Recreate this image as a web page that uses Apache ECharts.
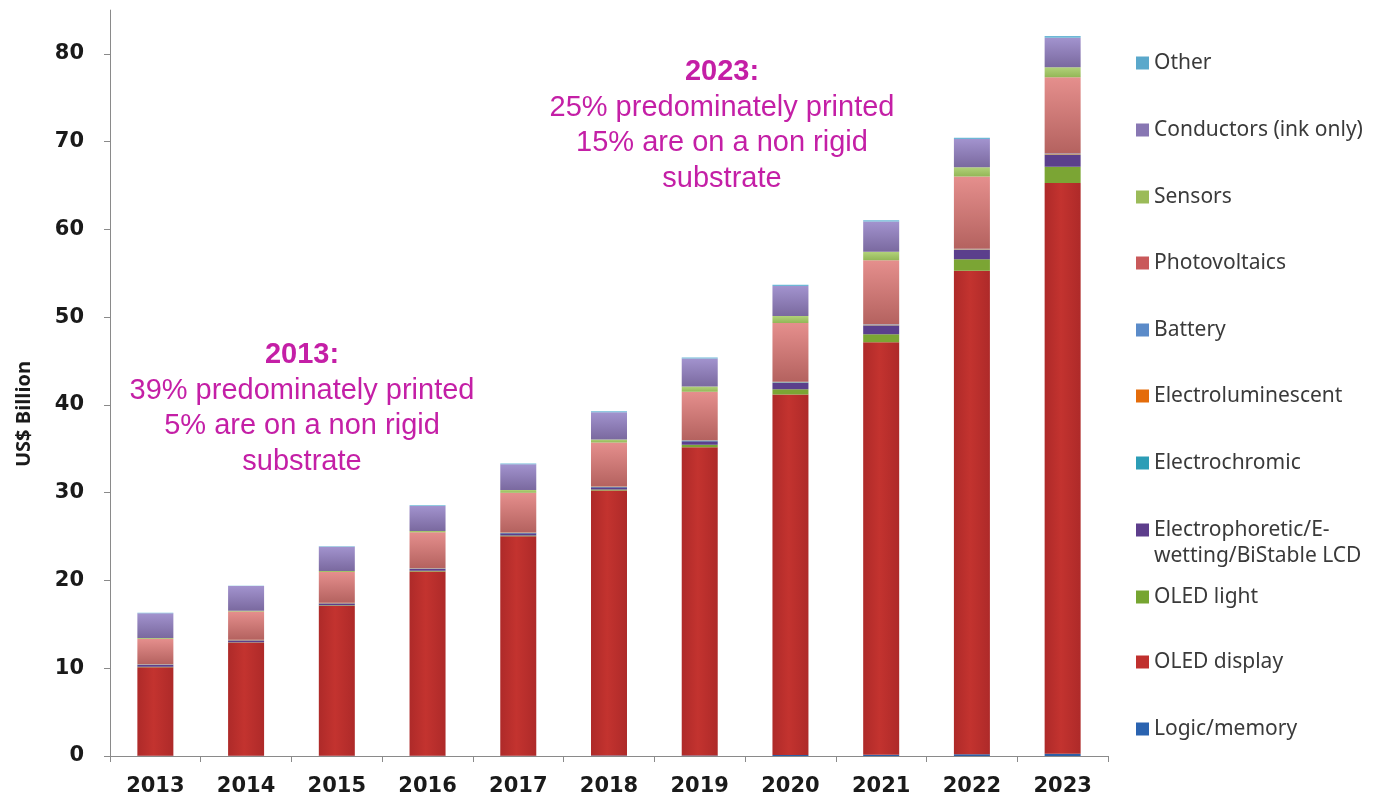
<!DOCTYPE html>
<html>
<head>
<meta charset="utf-8">
<script src="https://cdn.jsdelivr.net/npm/echarts@6/dist/echarts.min.js"></script>
<style>
  html, body { margin: 0; padding: 0; background: #ffffff; }
  #chart { width: 1376px; height: 799px; }
</style>
</head>
<body>
<div id="chart"></div>
<script>
// Printed / flexible electronics market, US$ billion, by segment
const years = ['2013', '2014', '2015', '2016', '2017', '2018', '2019', '2020', '2021', '2022', '2023'];

const logicMemory      = [0.02, 0.02, 0.03, 0.03, 0.04, 0.05, 0.07, 0.10, 0.15, 0.20, 0.25];
const oledDisplay      = [10.1, 12.9, 17.1, 21.0, 25.0, 30.2, 35.1, 41.1, 47.0, 55.1, 65.05];
const oledLight        = [0.05, 0.05, 0.05, 0.08, 0.10, 0.12, 0.30, 0.60, 0.90, 1.30, 1.85];
const electrophoretic  = [0.20, 0.20, 0.20, 0.20, 0.25, 0.25, 0.40, 0.70, 1.00, 1.05, 1.35];
const electrochromic   = [0.02, 0.02, 0.02, 0.02, 0.03, 0.03, 0.04, 0.05, 0.05, 0.05, 0.05];
const electrolum       = [0.05, 0.05, 0.05, 0.05, 0.05, 0.05, 0.05, 0.05, 0.05, 0.05, 0.05];
const battery          = [0.02, 0.02, 0.02, 0.02, 0.03, 0.03, 0.04, 0.05, 0.05, 0.05, 0.05];
const photovoltaics    = [2.9, 3.2, 3.5, 4.1, 4.5, 5.0, 5.5, 6.7, 7.3, 8.25, 8.7];
const sensors          = [0.10, 0.10, 0.12, 0.15, 0.30, 0.35, 0.60, 0.80, 0.95, 1.05, 1.15];
const conductors       = [2.8, 2.8, 2.75, 2.85, 2.95, 3.1, 3.2, 3.4, 3.45, 3.2, 3.35];
const other            = [0.05, 0.05, 0.06, 0.07, 0.08, 0.10, 0.10, 0.15, 0.15, 0.15, 0.20];

const yTicks = [0, 10, 20, 30, 40, 50, 60, 70, 80];

const note2013 = ['2013:', '39% predominately printed', '5% are on a non rigid', 'substrate'];
const note2023 = ['2023:', '25% predominately printed', '15% are on a non rigid', 'substrate'];

function vgrad(top, bottom) {
  return new echarts.graphic.LinearGradient(0, 0, 0, 1, [
    { offset: 0, color: top }, { offset: 1, color: bottom }
  ]);
}
function hgrad(edge, mid) {
  return new echarts.graphic.LinearGradient(0, 0, 1, 0, [
    { offset: 0, color: edge }, { offset: 0.45, color: mid }, { offset: 1, color: edge }
  ]);
}

// bottom-to-top stacking order
const seriesDefs = [
  { name: 'Logic/memory', data: logicMemory, fill: '#2C5FA5', icon: '#2A63B0' },
  { name: 'OLED display', data: oledDisplay, fill: hgrad('#AE2A29', '#C3332F'), icon: '#C0302E' },
  { name: 'OLED light', data: oledLight, fill: '#7BA534', icon: '#76A531' },
  { name: 'Electrophoretic/E-wetting/BiStable LCD', data: electrophoretic, fill: '#5B3F8C', icon: '#5D3E8C' },
  { name: 'Electrochromic', data: electrochromic, fill: '#2E9EB8', icon: '#2C9DB6' },
  { name: 'Electroluminescent', data: electrolum, fill: '#E4701E', icon: '#E46C0A' },
  { name: 'Battery', data: battery, fill: '#6C9AD0', icon: '#5B8BC9' },
  { name: 'Photovoltaics', data: photovoltaics, fill: vgrad('#E58F8D', '#B4625F'), icon: '#C9595A' },
  { name: 'Sensors', data: sensors, fill: vgrad('#B2D27A', '#93B757'), icon: '#9BBB59' },
  { name: 'Conductors (ink only)', data: conductors, fill: vgrad('#A293CE', '#7A699F'), icon: '#8877B3' },
  { name: 'Other', data: other, fill: '#6DB7D6', icon: '#5AA8CB' }
];

// legend rows (top to bottom) with their text centre y
const legendRows = [
  ['Other', 63], ['Conductors (ink only)', 130], ['Sensors', 197], ['Photovoltaics', 263],
  ['Battery', 330], ['Electroluminescent', 396], ['Electrochromic', 463],
  ['Electrophoretic/E-wetting/BiStable LCD', 530], ['OLED light', 597],
  ['OLED display', 662], ['Logic/memory', 729]
];

const legendFont = '"Noto Sans", "Open Sans", sans-serif';
const legendSize = 21;
const legends = legendRows.map(function (row) {
  const def = seriesDefs.find(function (d) { return d.name === row[0]; });
  return {
    orient: 'vertical',
    left: 1136,
    top: row[1] - 13,
    padding: 0,
    itemWidth: 13,
    itemHeight: 13,
    itemGap: 0,
    icon: 'rect',
    selectedMode: false,
    formatter: function (n) { return n === 'Electrophoretic/E-wetting/BiStable LCD' ? 'Electrophoretic/E-' : n; },
    textStyle: { fontFamily: legendFont, fontSize: legendSize, color: '#3a3a3a', lineHeight: 26 },
    data: [{ name: row[0], itemStyle: { color: def.icon } }]
  };
});

const series = seriesDefs.map(function (d) {
  return {
    name: d.name,
    type: 'bar',
    stack: 'total',
    barWidth: 36,
    data: d.data,
    itemStyle: { color: d.fill },
    emphasis: { disabled: true }
  };
});

const magenta = '#C41FA6';
function noteGraphics(lines, cx, y0) {
  return lines.map(function (t, i) {
    return {
      type: 'text',
      x: cx,
      y: y0 + i * 35.5,
      style: {
        text: t,
        fill: magenta,
        font: (i === 0 ? 'bold ' : '') + '29px "Liberation Sans", Arial, sans-serif',
        align: 'center',
        verticalAlign: 'middle'
      },
      silent: true
    };
  });
}

const chart = echarts.init(document.getElementById('chart'), null, { renderer: 'canvas' });
chart.setOption({
  animation: false,
  backgroundColor: '#ffffff',
  grid: { left: 110, right: 268, top: 10.1, bottom: 43 },
  legend: legends,
  xAxis: {
    type: 'category',
    data: years,
    axisLine: { lineStyle: { color: '#8a8a8a', width: 1 } },
    axisTick: { show: true, length: 6, lineStyle: { color: '#8a8a8a' } },
    axisLabel: {
      margin: 20,
      color: '#1a1a1a',
      fontFamily: '"DejaVu Sans", sans-serif',
      fontWeight: 'bold',
      fontSize: 21
    }
  },
  yAxis: {
    type: 'value',
    min: 0,
    max: 85,
    interval: 10,
    axisLine: { show: true, lineStyle: { color: '#8a8a8a', width: 1 } },
    axisTick: { show: true, length: 6, lineStyle: { color: '#8a8a8a' } },
    splitLine: { show: false },
    axisLabel: {
      margin: 26,
      showMaxLabel: false,
      color: '#1a1a1a',
      fontFamily: '"DejaVu Sans", sans-serif',
      fontWeight: 'bold',
      fontSize: 21,
      formatter: function (v) { return yTicks.indexOf(v) >= 0 ? String(v) : ''; }
    }
  },
  graphic: [
    {
      type: 'text',
      x: 24,
      y: 414,
      rotation: Math.PI / 2,
      style: {
        text: 'US$ Billion',
        fill: '#1a1a1a',
        font: 'bold 20px "Open Sans", "Noto Sans", sans-serif',
        align: 'center',
        verticalAlign: 'middle'
      },
      silent: true
    },
    {
      type: 'text',
      x: 1154,
      y: 556,
      style: {
        text: 'wetting/BiStable LCD',
        fill: '#3a3a3a',
        font: legendSize + 'px ' + legendFont,
        verticalAlign: 'middle'
      },
      silent: true
    }
  ].concat(noteGraphics(note2013, 302, 355), noteGraphics(note2023, 722, 72)),
  series: series
});
</script>
</body>
</html>
